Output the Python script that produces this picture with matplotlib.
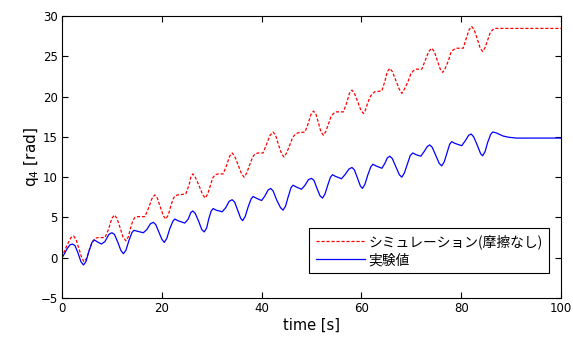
import matplotlib
matplotlib.use("Agg")
import matplotlib.pyplot as plt

# Simulation (no friction), red dashed
sim_t = [0, 0.6, 1.2, 1.8, 2.3, 2.8, 3.3, 3.9, 4.4, 4.9, 5.5, 6.1, 6.6, 7.2, 8.6, 9.3, 10.0, 10.5, 11.0,
         11.6, 12.2, 12.8, 13.3, 13.7, 14.2, 14.6, 15.2, 16.6, 17.3, 18.0, 18.6, 19.1,
         19.7, 20.3, 20.8, 21.3, 21.7, 22.2, 22.6, 23.2, 24.8, 25.5, 25.8, 26.2, 26.7,
         27.5, 28.2, 28.7, 29.2, 29.7, 30.2, 30.7, 31.3, 32.3, 33.0, 33.6, 34.1, 34.6,
         35.3, 36.0, 36.5, 37.0, 37.6, 38.2, 38.7, 39.3, 40.3, 41.0, 41.7, 42.3, 42.8,
         43.4, 44.0, 44.5, 45.0, 45.6, 46.2, 46.7, 47.3, 48.7, 49.3, 49.9, 50.4, 50.9,
         51.4, 51.9, 52.4, 52.9, 53.4, 53.9, 54.4, 55.0, 56.4, 57.1, 57.6, 58.1, 58.6,
         59.3, 59.9, 60.4, 60.8, 61.2, 61.7, 62.1, 62.7, 64.1, 64.7, 65.2, 65.7, 66.2,
         66.9, 67.6, 68.1, 68.6, 69.3, 69.9, 70.4, 71.0, 72.1, 72.8, 73.5, 74.1, 74.6,
         75.2, 75.8, 76.3, 76.8, 77.4, 77.9, 78.4, 79.0, 80.4, 81.0, 81.6, 82.1, 82.6,
         83.2, 83.8, 84.3, 84.8, 85.3, 85.8, 86.3, 86.8, 100]
sim_v = [0, 1.0, 1.8, 2.5, 2.7, 2.3, 1.3, 0.1, -0.5, -0.1, 1.0, 2.0, 2.4, 2.5, 2.5, 3.5, 4.9, 5.3, 4.9,
         3.8, 2.6, 2.1, 2.6, 3.6, 4.6, 5.0, 5.1, 5.1, 6.1, 7.3, 7.8, 7.4,
         6.3, 5.2, 4.8, 5.3, 6.2, 7.2, 7.65, 7.8, 7.9, 9.1, 10.0, 10.4, 10.0,
         8.9, 7.8, 7.4, 7.9, 8.9, 9.9, 10.3, 10.4, 10.4, 11.5, 12.6, 13.0, 12.6,
         11.5, 10.4, 10.0, 10.5, 11.5, 12.5, 12.9, 13.0, 13.0, 14.1, 15.2, 15.6, 15.2,
         14.0, 12.9, 12.5, 13.0, 13.9, 14.9, 15.3, 15.5, 15.6, 16.6, 17.8, 18.2, 17.8,
         16.7, 15.6, 15.2, 15.7, 16.6, 17.5, 17.9, 18.1, 18.1, 19.3, 20.4, 20.8, 20.4,
         19.3, 18.3, 17.9, 18.3, 19.1, 19.9, 20.3, 20.6, 20.7, 21.9, 23.1, 23.5, 23.1,
         22.0, 20.9, 20.4, 20.9, 21.8, 22.8, 23.2, 23.4, 23.4, 24.5, 25.6, 26.0, 25.6,
         24.5, 23.4, 23.0, 23.5, 24.4, 25.4, 25.8, 26.0, 26.0, 27.2, 28.3, 28.7, 28.3,
         27.2, 26.0, 25.6, 26.1, 27.0, 27.9, 28.3, 28.46, 28.46]

exp_t = [0, 0.5, 1.0, 1.6, 2.1, 2.6, 3.2, 3.8, 4.3, 4.8, 5.4, 6.0, 6.5, 7.0, 7.9, 8.6, 9.4, 10.0, 10.5,
         11.2, 11.8, 12.3, 12.8, 13.4, 14.0, 14.4, 15.0, 16.3, 17.0, 17.7, 18.3, 18.8,
         19.4, 20.0, 20.5, 21.0, 21.6, 22.2, 22.6, 23.2, 24.6, 25.3, 25.8, 26.2, 26.7,
         27.4, 28.0, 28.5, 29.0, 29.4, 29.9, 30.3, 30.9, 32.1, 32.8, 33.5, 34.1, 34.6,
         35.2, 35.8, 36.2, 36.7, 37.3, 37.9, 38.3, 38.9, 40.0, 40.6, 41.3, 41.8, 42.3,
         43.0, 43.8, 44.3, 44.8, 45.3, 45.9, 46.3, 46.9, 48.0, 48.7, 49.4, 50.0, 50.5,
         51.1, 51.7, 52.2, 52.7, 53.2, 53.8, 54.2, 54.8, 56.0, 56.7, 57.5, 58.1, 58.6,
         59.2, 59.8, 60.2, 60.7, 61.3, 61.9, 62.3, 62.9, 64.1, 64.7, 65.2, 65.7, 66.2,
         66.9, 67.6, 68.1, 68.6, 69.2, 69.8, 70.3, 70.9, 71.9, 72.6, 73.2, 73.7, 74.2,
         74.9, 75.6, 76.1, 76.6, 77.1, 77.7, 78.1, 78.7, 80.1, 80.8, 81.5, 82.0, 82.5,
         83.2, 83.9, 84.3, 84.8, 85.3, 85.9, 86.3, 87.0, 88.4, 89.5, 91.1, 95, 100]
exp_v = [0, 0.5, 1.1, 1.6, 1.7, 1.5, 0.6, -0.5, -0.9, -0.5, 0.8, 1.9, 2.2, 2.0, 1.7, 2.0, 2.9, 3.1, 2.9,
         1.9, 0.9, 0.5, 0.9, 2.1, 3.1, 3.4, 3.3, 3.1, 3.5, 4.2, 4.4, 4.1,
         3.2, 2.3, 1.9, 2.4, 3.6, 4.5, 4.8, 4.6, 4.3, 4.8, 5.6, 5.8, 5.5,
         4.5, 3.5, 3.2, 3.7, 4.8, 5.8, 6.1, 5.9, 5.7, 6.2, 7.0, 7.2, 6.9,
         5.9, 4.9, 4.6, 5.1, 6.3, 7.3, 7.6, 7.4, 7.1, 7.6, 8.4, 8.6, 8.3,
         7.2, 6.2, 5.9, 6.4, 7.5, 8.7, 9.0, 8.8, 8.5, 9.0, 9.7, 9.85, 9.6,
         8.6, 7.7, 7.4, 7.9, 8.9, 10.0, 10.3, 10.1, 9.8, 10.3, 11.0, 11.2, 10.9,
         9.9, 8.9, 8.6, 9.1, 10.3, 11.3, 11.6, 11.4, 11.1, 11.7, 12.4, 12.6, 12.3,
         11.3, 10.3, 10.0, 10.5, 11.6, 12.7, 13.0, 12.8, 12.6, 13.2, 13.8, 14.0, 13.7,
         12.7, 11.7, 11.4, 11.9, 12.9, 14.1, 14.4, 14.2, 13.9, 14.5, 15.2, 15.35, 15.0,
         14.0, 12.9, 12.65, 13.2, 14.3, 15.3, 15.6, 15.5, 15.1, 14.95, 14.85, 14.85, 14.85]

labels = ["シミュレーション(摩擦なし)", "実験値"]
xticks = [0, 20, 40, 60, 80, 100]
yticks = [-5, 0, 5, 10, 15, 20, 25, 30]

plt.rcParams['font.family'] = ['Noto Sans CJK JP', 'DejaVu Sans']
plt.rcParams['axes.unicode_minus'] = True

fig = plt.figure(figsize=(5.73, 3.47), dpi=100)
ax = fig.add_axes([62/573, 1 - 298/347, (561-62)/573, (298-16)/347])

ax.plot(sim_t, sim_v, color='#ff0000', linestyle=(0, (2.5, 1.5)), linewidth=0.9, label=labels[0])
ax.plot(exp_t, exp_v, color='#0000ff', linestyle='-', linewidth=0.9, label=labels[1])

ax.set_xlim(0, 100)
ax.set_ylim(-5, 30)
ax.set_xticks(xticks)
ax.set_yticks(yticks)
ax.set_xticklabels([str(v) for v in xticks], family='DejaVu Sans')
ax.set_yticklabels([str(v).replace('-', '\u2212') for v in yticks], family='DejaVu Sans')
ax.tick_params(direction='in', top=True, right=True, length=4, width=0.8, labelsize=8.5, pad=3)
for s in ax.spines.values():
    s.set_linewidth(0.8)

ax.set_xlabel("time [s]", family='DejaVu Sans', fontsize=10.5, labelpad=2)
ax.set_ylabel("q$_4$ [rad]", family='DejaVu Sans', fontsize=11, labelpad=0)

leg = ax.legend(loc='lower right', bbox_to_anchor=(0.976, 0.088), fontsize=9.9, frameon=True,
                fancybox=False, edgecolor='black', framealpha=1, handlelength=3.6,
                borderpad=0.45, labelspacing=0.3, handletextpad=0.25, borderaxespad=0)
leg.get_frame().set_linewidth(0.8)

fig.savefig("out.png", dpi=100)
